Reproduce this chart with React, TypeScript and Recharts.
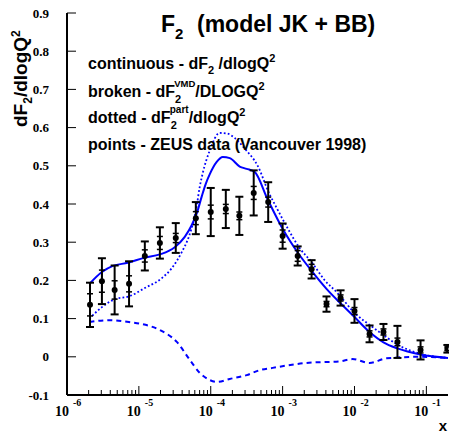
import { ComposedChart, Line, Scatter, ErrorBar, XAxis, YAxis } from "recharts";

// ZEUS points (Vancouver 1998): x, dF2/dlogQ2, total and statistical errors
const zeusX = [2.09e-6, 3.06e-6, 4.6e-6, 7.3e-6, 1.21e-5, 1.96e-5, 3.26e-5, 6.2e-5, 1.0e-4, 1.62e-4, 2.5e-4, 3.96e-4, 6.3e-4, 1.0e-3, 1.62e-3, 2.53e-3, 4.08e-3, 6.4e-3, 1.0e-2, 1.62e-2, 2.53e-2, 3.96e-2, 8.3e-2, 0.196];
const zeusF = [0.136, 0.198, 0.175, 0.191, 0.264, 0.298, 0.311, 0.363, 0.379, 0.387, 0.369, 0.429, 0.405, 0.316, 0.264, 0.229, 0.138, 0.154, 0.120, 0.060, 0.065, 0.039, 0.018, 0.021];
const zeusTot = [0.058, 0.060, 0.064, 0.059, 0.038, 0.041, 0.039, 0.042, 0.063, 0.050, 0.050, 0.059, 0.052, 0.033, 0.025, 0.024, 0.020, 0.020, 0.031, 0.022, 0.021, 0.042, 0.025, 0.010];
const zeusStat = [0.029, 0.029, 0.024, 0.021, 0.016, 0.017, 0.012, 0.017, 0.018, 0.012, 0.010, 0.017, 0.013, 0.016, 0.014, 0.013, 0.007, 0.008, 0.009, 0.008, 0.008, 0.010, 0.008, 0.005];

// model JK + BB, total dF2/dlogQ2 (continuous)
const totalX = [2.05e-6, 3.06e-6, 4.35e-6, 7.03e-6, 1.17e-5, 1.96e-5, 3.16e-5, 4.35e-5, 5.45e-5, 6.4e-5, 7.5e-5, 8.5e-5, 9.7e-5, 1.21e-4, 1.47e-4, 1.84e-4, 2.53e-4, 3.16e-4, 4.08e-4, 6.19e-4, 1e-3, 1.62e-3, 2.53e-3, 4.08e-3, 6.4e-3, 1e-2, 1.62e-2, 2.53e-2, 3.96e-2, 8.26e-2, 0.2];
const totalF = [0.191, 0.222, 0.238, 0.246, 0.259, 0.268, 0.287, 0.314, 0.345, 0.376, 0.420, 0.452, 0.478, 0.510, 0.523, 0.520, 0.498, 0.492, 0.484, 0.412, 0.335, 0.273, 0.225, 0.178, 0.140, 0.104, 0.065, 0.038, 0.022, 0.006, -0.003];

// partonic part (dotted)
const partX = [2.05e-6, 3.06e-6, 4.64e-6, 7.26e-6, 1.21e-5, 2.09e-5, 2.87e-5, 3.95e-5, 4.95e-5, 5.81e-5, 6.4e-5, 7.03e-5, 7.74e-5, 9.69e-5, 1.33e-4, 1.72e-4, 2.15e-4, 2.97e-4, 4.5e-4, 6.59e-4, 7.74e-4, 1.17e-3, 1.72e-3, 2.53e-3, 3.83e-3, 5.81e-3, 1e-2, 1.72e-2, 2.61e-2, 3.96e-2, 7.5e-2, 0.2];
const partF = [0.100, 0.130, 0.151, 0.158, 0.180, 0.206, 0.232, 0.274, 0.314, 0.358, 0.397, 0.445, 0.481, 0.540, 0.586, 0.584, 0.573, 0.545, 0.500, 0.425, 0.400, 0.337, 0.285, 0.248, 0.201, 0.167, 0.115, 0.080, 0.055, 0.032, 0.010, -0.003];

// VMD part (broken)
const vmdX = [2.05e-6, 3.95e-6, 7.26e-6, 9.38e-6, 1.96e-5, 3.37e-5, 5.11e-5, 7.03e-5, 9.69e-5, 1.21e-4, 1.84e-4, 3.16e-4, 4.8e-4, 7.26e-4, 2.15e-3, 6.19e-3, 9.38e-3, 1.62e-2, 2.78e-2, 8.0e-2, 0.2];
const vmdF = [0.091, 0.096, 0.091, 0.088, 0.070, 0.039, -0.008, -0.042, -0.061, -0.066, -0.058, -0.048, -0.035, -0.029, -0.016, -0.012, -0.006, -0.016, -0.004, 0.000, -0.003];

const xTicks = [
  1e-6, 2e-6, 3e-6, 4e-6, 5e-6, 6e-6, 7e-6, 8e-6, 9e-6,
  1e-5, 2e-5, 3e-5, 4e-5, 5e-5, 6e-5, 7e-5, 8e-5, 9e-5,
  1e-4, 2e-4, 3e-4, 4e-4, 5e-4, 6e-4, 7e-4, 8e-4, 9e-4,
  1e-3, 2e-3, 3e-3, 4e-3, 5e-3, 6e-3, 7e-3, 8e-3, 9e-3,
  1e-2, 2e-2, 3e-2, 4e-2, 5e-2, 6e-2, 7e-2, 8e-2, 9e-2,
  1e-1,
];
const yTicks = [-0.1, 0, 0.1, 0.2, 0.3, 0.4, 0.5, 0.6, 0.7, 0.8, 0.9];
const yTickLabels = ["-0.1", "0", "0.1", "0.2", "0.3", "0.4", "0.5", "0.6", "0.7", "0.8", "0.9"];

const zeus = zeusX.map((x, i) => ({ x, y: zeusF[i], tot: zeusTot[i], stat: zeusStat[i] }));
const total = totalX.map((x, i) => ({ x, y: totalF[i] }));
const part = partX.map((x, i) => ({ x, y: partF[i] }));
const vmd = vmdX.map((x, i) => ({ x, y: vmdF[i] }));

const BLUE = "#0000ff";
const SANS = "'Liberation Sans', Arial, Helvetica, sans-serif";
const SERIF = "'Liberation Serif', 'Times New Roman', serif";
const FRAME = { stroke: "#000", strokeWidth: 2 };

const XTick = ({ x, y, payload }: any) => {
  const v = payload.value;
  const e = Math.log10(v);
  const major = Math.abs(e - Math.round(e)) < 1e-6;
  return (
    <g>
      <line x1={x} x2={x} y1={y} y2={y - (major ? 9 : 5)} stroke="#000" strokeWidth={1} />
      {major && (
        <>
          <text x={x + 2} y={y + 21} textAnchor="end" fontFamily={SERIF} fontWeight="bold" fontSize={14} fill="#000">10</text>
          <text x={x + 6} y={y + 11} textAnchor="start" fontFamily={SERIF} fontWeight="bold" fontSize={10} fill="#000">{Math.round(e)}</text>
        </>
      )}
    </g>
  );
};

const YTick = ({ x, y, payload }: any) => {
  const i = yTicks.findIndex((t) => Math.abs(t - payload.value) < 1e-9);
  return (
    <g>
      <line x1={x} x2={x + 9} y1={y} y2={y} stroke="#000" strokeWidth={1} />
      <text x={x - 18} y={y} dy="0.35em" textAnchor="end" fontFamily={SERIF} fontWeight="bold" fontSize={13} fill="#000">
        {yTickLabels[i]}
      </text>
    </g>
  );
};

const Dot = ({ cx, cy }: any) => <circle cx={cx} cy={cy} r={3} fill="#000" />;

export default function App() {
  return (
    <div style={{ position: "absolute", left: 0, top: 0, width: 449, height: 434, background: "#fff" }}>
      <ComposedChart width={449} height={434} margin={{ top: 13, right: 1, bottom: 0, left: 0 }}>
        <XAxis
          dataKey="x"
          type="number"
          scale="log"
          domain={[1e-6, 0.2]}
          allowDataOverflow
          ticks={xTicks}
          interval={0}
          height={39}
          axisLine={FRAME}
          tickLine={false}
          tickSize={0}
          tickMargin={0}
          tick={<XTick />}
        />
        <XAxis xAxisId="top" orientation="top" dataKey="x" type="number" scale="log" domain={[1e-6, 0.2]} allowDataOverflow height={0} axisLine={FRAME} tickLine={false} tick={false} />
        <YAxis
          dataKey="y"
          type="number"
          domain={[-0.1, 0.9]}
          allowDataOverflow
          ticks={yTicks}
          interval={0}
          width={67}
          axisLine={FRAME}
          tickLine={false}
          tickSize={0}
          tickMargin={0}
          tick={<YTick />}
        />
        <YAxis yAxisId="right" orientation="right" dataKey="y" type="number" domain={[-0.1, 0.9]} allowDataOverflow width={0} axisLine={FRAME} tickLine={false} tick={false} />
        <Line data={vmd} dataKey="y" type="monotone" stroke={BLUE} strokeWidth={2} strokeDasharray="5 4" dot={false} isAnimationActive={false} />
        <Line data={part} dataKey="y" type="monotone" stroke={BLUE} strokeWidth={1.8} strokeDasharray="1.8 2.2" dot={false} isAnimationActive={false} />
        <Line data={total} dataKey="y" type="monotone" stroke={BLUE} strokeWidth={2} dot={false} isAnimationActive={false} />
        <Scatter data={zeus} dataKey="y" shape={<Dot />} isAnimationActive={false}>
          <ErrorBar dataKey="tot" direction="y" width={4} stroke="#000" strokeWidth={2} isAnimationActive={false} />
          <ErrorBar dataKey="stat" direction="y" width={3} stroke="#000" strokeWidth={1.5} isAnimationActive={false} />
        </Scatter>
      </ComposedChart>
      <svg width={449} height={434} style={{ position: "absolute", left: 0, top: 0, pointerEvents: "none" }}>
        <g fontFamily={SANS} fontWeight="bold" fill="#000">
          <text x={161} y={32} fontSize={23}>
            F<tspan dy={7} fontSize={15}>2</tspan>
            <tspan x={197} dy={-7}>(model JK + BB)</tspan>
          </text>
          <text x={88} y={69} fontSize={16}>
            continuous - dF<tspan dy={5} fontSize={11}>2</tspan>
            <tspan dy={-5}> /dlogQ</tspan>
            <tspan dy={-7} fontSize={11}>2</tspan>
          </text>
          <text x={88} y={97} fontSize={16}>
            broken - dF<tspan dy={6} fontSize={11}>2</tspan>
            <tspan dx={-7} dy={-16} fontSize={9.5}>VMD</tspan>
            <tspan dy={10}>/DLOGQ</tspan>
            <tspan dy={-7} fontSize={11}>2</tspan>
          </text>
          <text x={88} y={123} fontSize={16}>
            dotted - dF<tspan dy={6} fontSize={11}>2</tspan>
            <tspan dx={-7} dy={-16} fontSize={10}>part</tspan>
            <tspan dy={10}>/dlogQ</tspan>
            <tspan dy={-7} fontSize={11}>2</tspan>
          </text>
          <text x={88} y={150} fontSize={16}>points - ZEUS data (Vancouver 1998)</text>
          <text transform="translate(27,127) rotate(-90)" fontSize={19}>
            dF<tspan dy={5} fontSize={12}>2</tspan>
            <tspan dy={-5}>/dlogQ</tspan>
            <tspan dy={-7} fontSize={12}>2</tspan>
          </text>
          <text x={447} y={431} fontSize={15} textAnchor="end">x</text>
        </g>
      </svg>
    </div>
  );
}
